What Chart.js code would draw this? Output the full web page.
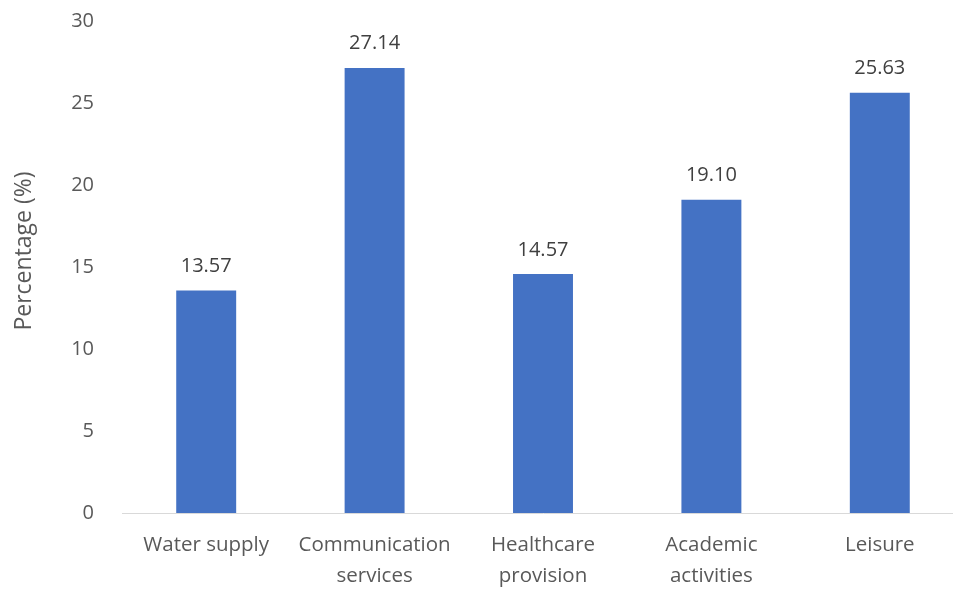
<!DOCTYPE html>
<html>
<head>
<meta charset="utf-8">
<script src="https://cdn.jsdelivr.net/npm/chart.js@4/dist/chart.umd.min.js"></script>
<style>
  html, body { margin: 0; padding: 0; background: #fff; overflow: hidden; }
  #wrap { width: 980px; height: 609px; margin-top: -19px; }
</style>
</head>
<body>
<div id="wrap"><canvas id="chart" width="980" height="609"></canvas></div>
<script>
// categories (multi-line labels are arrays)
const categories = [
  'Water supply',
  ['Communication', 'services'],
  ['Healthcare', 'provision'],
  ['Academic', 'activities'],
  'Leisure'
];
const percentages = [13.57, 27.14, 14.57, 19.10, 25.63];
const yMin = 0;
const yMax = 30;
const yStep = 5;
const yTitle = 'Percentage (%)';

const FONT = "'Open Sans', 'Liberation Sans', sans-serif";

// writes the value above every bar
const valueLabels = {
  id: 'valueLabels',
  afterDatasetsDraw(chart) {
    const ctx = chart.ctx;
    const meta = chart.getDatasetMeta(0);
    ctx.save();
    ctx.font = '20px ' + FONT;
    ctx.fillStyle = '#404040';
    ctx.textAlign = 'center';
    ctx.textBaseline = 'alphabetic';
    meta.data.forEach(function (bar, i) {
      ctx.fillText(percentages[i].toFixed(2), bar.x, bar.y - 18.5);
    });
    ctx.restore();
  }
};

// vertical axis title, drawn a bit above the plot's middle
const axisTitle = {
  id: 'axisTitle',
  afterDraw(chart) {
    const ctx = chart.ctx;
    const area = chart.chartArea;
    ctx.save();
    ctx.translate(24, (area.top + area.bottom) / 2 - 16);
    ctx.rotate(-Math.PI / 2);
    ctx.font = '23px ' + FONT;
    ctx.fillStyle = '#595959';
    ctx.textAlign = 'center';
    ctx.textBaseline = 'middle';
    ctx.fillText(yTitle, 0, 0);
    ctx.restore();
  }
};

new Chart(document.getElementById('chart'), {
  type: 'bar',
  data: {
    labels: categories,
    datasets: [{
      data: percentages,
      backgroundColor: '#4472C4',
      borderWidth: 0,
      categoryPercentage: 1,
      barPercentage: 0.356
    }]
  },
  options: {
    responsive: false,
    animation: false,
    layout: { padding: { top: 0, right: 16, left: 0, bottom: 0 } },
    plugins: {
      legend: { display: false },
      tooltip: { enabled: false }
    },
    scales: {
      x: {
        grid: { display: false, drawTicks: false },
        border: { display: true, color: '#D9D9D9', width: 1 },
        ticks: {
          color: '#595959',
          font: { family: FONT, size: 20.5, lineHeight: 1.5 },
          padding: 17,
          maxRotation: 0,
          autoSkip: false
        },
        afterFit(s) { s.height = 77; }
      },
      y: {
        min: yMin,
        max: yMax,
        grid: { display: false, drawTicks: false },
        border: { display: false },
        ticks: {
          stepSize: yStep,
          color: '#595959',
          font: { family: FONT, size: 20 },
          padding: 28
        },
        afterFit(s) { s.width = 122; }
      }
    }
  },
  plugins: [valueLabels, axisTitle]
});
</script>
</body>
</html>
